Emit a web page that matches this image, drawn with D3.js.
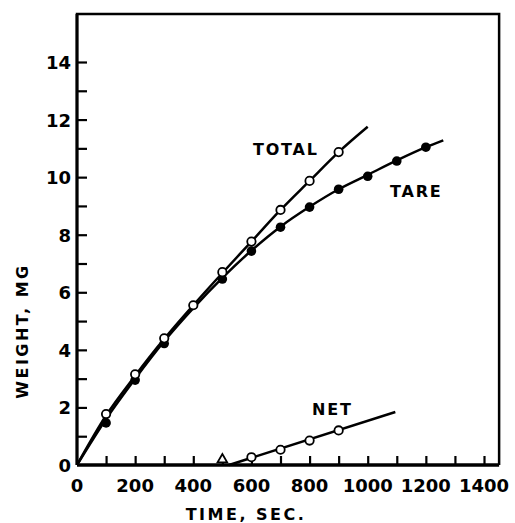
<!DOCTYPE html>
<html><head><meta charset="utf-8">
<script src="https://cdn.jsdelivr.net/npm/d3@7"></script>
<style>body{margin:0;background:#fff}text{font-family:"DejaVu Sans",sans-serif;font-weight:bold;fill:#000}</style>
</head><body><svg id="c" width="515" height="523"></svg>
<script>
const xTickLabels=[0,200,400,600,800,1000,1200,1400];
const yTickLabels=[0,2,4,6,8,10,12,14];
const totalTimes=[100,200,300,400,500,600,700,800,900];
const totalValues=[1.77,3.15,4.4,5.55,6.7,7.76,8.86,9.87,10.87];
const totalLineTimes=[0,100,200,300,400,500,600,700,800,900,1000];
const totalLineValues=[0,1.72,3.1,4.38,5.55,6.67,7.76,8.86,9.87,10.87,11.75];
const tareTimes=[100,200,300,500,600,700,800,900,1000,1100,1200];
const tareValues=[1.46,2.95,4.22,6.46,7.43,8.26,8.96,9.58,10.03,10.56,11.04];
const tareLineTimes=[0,100,200,300,400,500,600,700,800,900,1000,1100,1200,1260];
const tareLineValues=[0,1.6,3.0,4.3,5.45,6.5,7.45,8.28,8.97,9.58,10.08,10.58,11.04,11.28];
const netTimes=[600,700,800,900];
const netValues=[0.27,0.53,0.85,1.2];
const netLineTimes=[523,1095];
const netLineValues=[0,1.84];
const triangleTime=[500], triangleValue=[0.12];

const svg=d3.select("#c");
const x=d3.scaleLinear().domain([0,1400]).range([77,484]);
const y=d3.scaleLinear().domain([0,14]).range([465,62]);
const xMax=1452, yMax=15.67;

// frame
svg.append("path").attr("d",`M${x(0)},${y(0)}V${y(yMax)}H${x(xMax)}V${y(0)}`)
  .attr("fill","none").attr("stroke","#000").attr("stroke-width",2.5);
svg.append("line").attr("x1",x(0)).attr("x2",x(xMax)).attr("y1",y(0)).attr("y2",y(0))
  .attr("stroke","#000").attr("stroke-width",3.5);
svg.append("line").attr("x1",x(0)).attr("x2",x(0)).attr("y1",y(0)).attr("y2",y(yMax))
  .attr("stroke","#000").attr("stroke-width",3);

// x axis
const xa=svg.append("g").attr("transform",`translate(0,${y(0)})`)
  .call(d3.axisBottom(x).tickValues(d3.range(100,1401,100)).tickSize(-9).tickFormat(""));
xa.select(".domain").remove();
xa.selectAll("line").attr("stroke-width",2.2);
svg.append("g").selectAll("text").data(xTickLabels).join("text")
  .attr("x",d=>x(d)).attr("y",492).attr("text-anchor","middle").attr("font-size",18).text(d=>d);

// y axis
const ya=svg.append("g").attr("transform",`translate(${x(0)},0)`)
  .call(d3.axisLeft(y).tickValues(d3.range(1,15,1)).tickSize(-10).tickFormat(""));
ya.select(".domain").remove();
ya.selectAll("line").attr("stroke-width",2.2);
svg.append("g").selectAll("text").data(yTickLabels).join("text")
  .attr("x",71).attr("y",d=>y(d)+7).attr("text-anchor","end").attr("font-size",18).text(d=>d);

svg.append("text").attr("x",246).attr("y",520).attr("text-anchor","middle")
  .attr("font-size",16).attr("letter-spacing",2.5).text("TIME,  SEC.");
svg.append("text").attr("transform","translate(28,331) rotate(-90)").attr("text-anchor","middle")
  .attr("font-size",16).attr("letter-spacing",2.5).text("WEIGHT,  MG");

// lines
const line=d3.line().x(d=>x(d[0])).y(d=>y(d[1])).curve(d3.curveMonotoneX);
const g=svg.append("g");
g.append("path").attr("d",line(d3.zip(totalLineTimes,totalLineValues)))
  .attr("fill","none").attr("stroke","#000").attr("stroke-width",2.5);
g.append("path").attr("d",line(d3.zip(tareLineTimes,tareLineValues)))
  .attr("fill","none").attr("stroke","#000").attr("stroke-width",2.5);
g.append("path").attr("d",d3.line().x(d=>x(d[0])).y(d=>y(d[1]))(d3.zip(netLineTimes,netLineValues)))
  .attr("fill","none").attr("stroke","#000").attr("stroke-width",2.5);

// markers
g.selectAll(".tare").data(d3.zip(tareTimes,tareValues)).join("circle")
  .attr("cx",d=>x(d[0])).attr("cy",d=>y(d[1])).attr("r",4.8).attr("fill","#000");
g.selectAll(".total").data(d3.zip(totalTimes,totalValues)).join("circle")
  .attr("cx",d=>x(d[0])).attr("cy",d=>y(d[1])).attr("r",4.2).attr("fill","#fff").attr("stroke","#000").attr("stroke-width",1.8);
g.selectAll(".net").data(d3.zip(netTimes,netValues)).join("circle")
  .attr("cx",d=>x(d[0])).attr("cy",d=>y(d[1])).attr("r",4.2).attr("fill","#fff").attr("stroke","#000").attr("stroke-width",1.8);
g.selectAll(".tri").data(d3.zip(triangleTime,triangleValue)).join("path")
  .attr("d",d3.symbol(d3.symbolTriangle,40)).attr("transform",d=>`translate(${x(d[0])},${y(d[1])-2})`)
  .attr("fill","#fff").attr("stroke","#000").attr("stroke-width",1.8);

// labels
svg.append("text").attr("x",253).attr("y",155).attr("font-size",16).attr("letter-spacing",1.8).text("TOTAL");
svg.append("text").attr("x",390).attr("y",197).attr("font-size",16).attr("letter-spacing",1.8).text("TARE");
svg.append("text").attr("x",312).attr("y",415).attr("font-size",16).attr("letter-spacing",1.8).text("NET");
</script></body></html>
